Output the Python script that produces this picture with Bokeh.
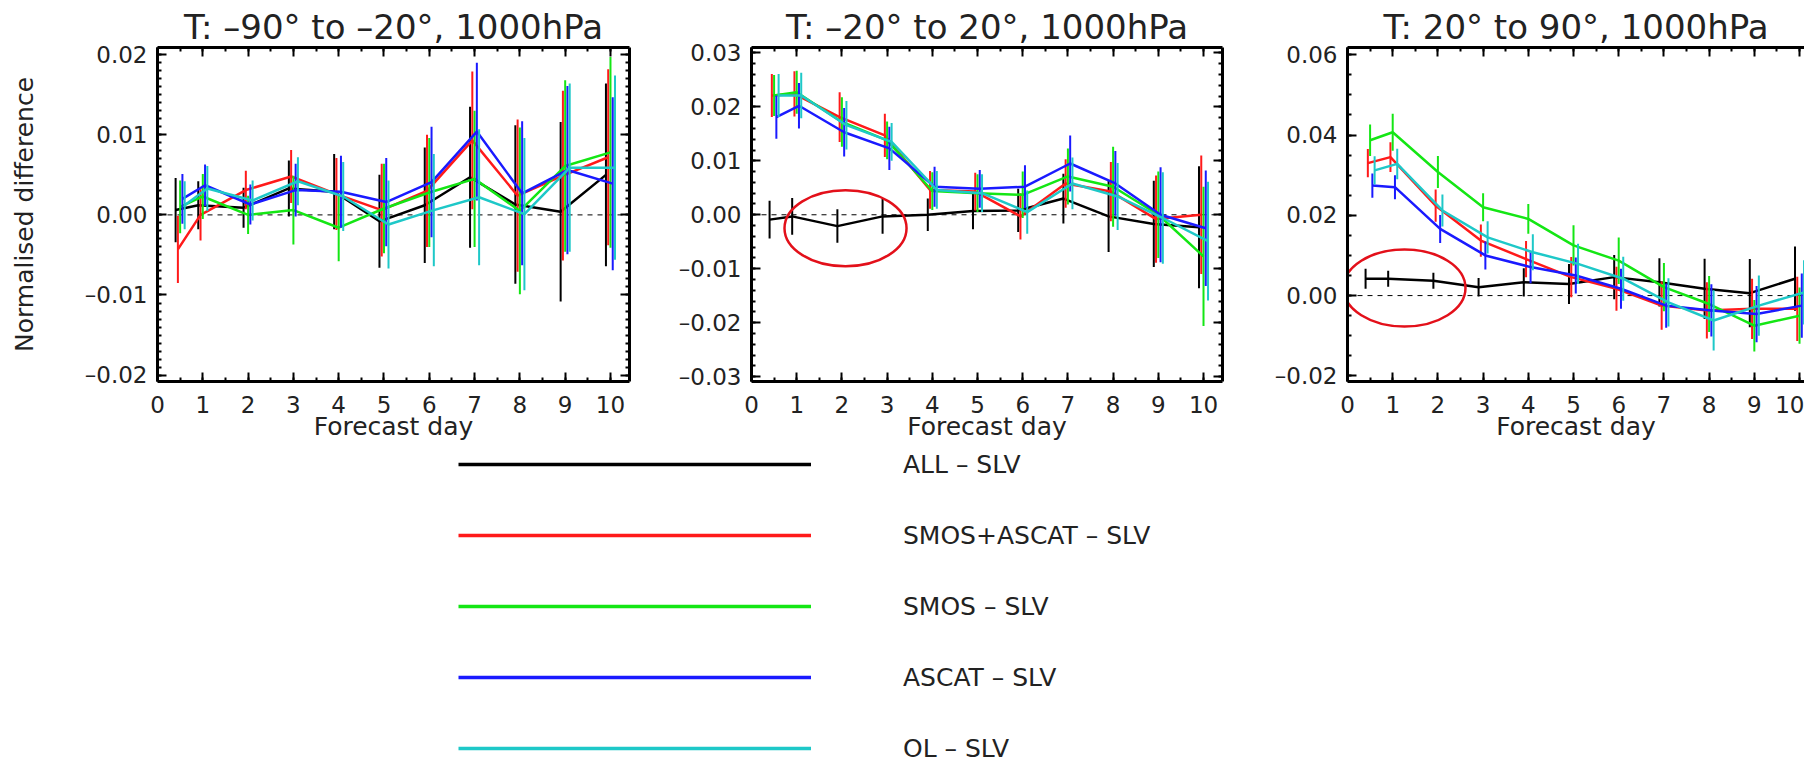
from bokeh.plotting import figure
from bokeh.layouts import row, column
from bokeh.models import (FixedTicker, LinearAxis, Range1d, Span, Title,
                          CustomJSTickFormatter, Legend, LegendItem, Spacer)
from bokeh.embed import file_html
from bokeh.resources import INLINE

FONT = "DejaVu Sans"
TXT = "#222222"

# ---------------- data ----------------
days = [0.5, 1, 2, 3, 4, 5, 6, 7, 8, 9, 10]
series_names = ["ALL \u2013 SLV", "SMOS+ASCAT \u2013 SLV", "SMOS \u2013 SLV", "ASCAT \u2013 SLV", "OL \u2013 SLV"]
series_colors = ["#000000", "#ff1a1a", "#14e614", "#1a1aff", "#1ec8c8"]
series_xshift = [-0.1, -0.05, 0.0, 0.05, 0.1]

panel_titles = ["T: \u201390\u00b0 to \u201320\u00b0, 1000hPa",
                "T: \u201320\u00b0 to 20\u00b0, 1000hPa",
                "T: 20\u00b0 to 90\u00b0, 1000hPa"]
x_label = "Forecast day"
y_label = "Normalised difference"
x_tick_values = [0, 1, 2, 3, 4, 5, 6, 7, 8, 9, 10]

# Panel 1: -90 to -20
p1_all = [0.0006, 0.0012, 0.0009, 0.0033, 0.0029, -0.0008, 0.0012, 0.0047, 0.0013, 0.0004, 0.0050]
p1_smos_ascat = [-0.0043, 0.0000, 0.0031, 0.0048, 0.0026, 0.0006, 0.0030, 0.0093, 0.0024, 0.0049, 0.0072]
p1_smos = [0.0010, 0.0023, 0.0000, 0.0006, -0.0016, 0.0008, 0.0028, 0.0045, 0.0005, 0.0061, 0.0078]
p1_ascat = [0.0020, 0.0037, 0.0013, 0.0031, 0.0029, 0.0016, 0.0041, 0.0104, 0.0027, 0.0056, 0.0039]
p1_ol = [0.0012, 0.0033, 0.0018, 0.0042, 0.0023, -0.0012, 0.0006, 0.0022, 0.0001, 0.0059, 0.0059]
p1_all_err = [0.0040, 0.0030, 0.0025, 0.0035, 0.0047, 0.0058, 0.0072, 0.0088, 0.0099, 0.0112, 0.0114]
p1_smos_ascat_err = [0.0042, 0.0032, 0.0024, 0.0033, 0.0045, 0.0058, 0.0070, 0.0086, 0.0095, 0.0106, 0.0110]
p1_smos_err = [0.0033, 0.0028, 0.0024, 0.0043, 0.0042, 0.0056, 0.0068, 0.0085, 0.0104, 0.0107, 0.0119]
p1_ascat_err = [0.0031, 0.0026, 0.0025, 0.0033, 0.0045, 0.0055, 0.0069, 0.0086, 0.0090, 0.0105, 0.0108]
p1_ol_err = [0.0030, 0.0028, 0.0025, 0.0030, 0.0043, 0.0055, 0.0070, 0.0085, 0.0095, 0.0105, 0.0115]

# Panel 2: -20 to 20
p2_all = [-0.0009, -0.0003, -0.0021, -0.0003, 0.0000, 0.0007, 0.0008, 0.0030, -0.0003, -0.0017, -0.0023]
p2_smos_ascat = [0.0221, 0.0224, 0.0181, 0.0147, 0.0046, 0.0043, -0.0003, 0.0058, 0.0043, -0.0008, 0.0000]
p2_smos = [0.0221, 0.0227, 0.0172, 0.0138, 0.0044, 0.0040, 0.0037, 0.0071, 0.0052, 0.0000, -0.0077]
p2_ascat = [0.0181, 0.0202, 0.0153, 0.0123, 0.0052, 0.0048, 0.0052, 0.0095, 0.0058, 0.0000, -0.0025]
p2_ol = [0.0221, 0.0221, 0.0166, 0.0135, 0.0046, 0.0040, 0.0005, 0.0058, 0.0034, -0.0006, -0.0049]
p2_all_err = [0.0035, 0.0034, 0.0031, 0.0032, 0.0030, 0.0034, 0.0040, 0.0046, 0.0066, 0.0080, 0.0113]
p2_smos_ascat_err = [0.0040, 0.0042, 0.0046, 0.0040, 0.0035, 0.0035, 0.0043, 0.0045, 0.0055, 0.0081, 0.0110]
p2_smos_err = [0.0038, 0.0040, 0.0046, 0.0035, 0.0035, 0.0035, 0.0043, 0.0052, 0.0074, 0.0080, 0.0129]
p2_ascat_err = [0.0040, 0.0042, 0.0045, 0.0040, 0.0037, 0.0035, 0.0040, 0.0052, 0.0060, 0.0088, 0.0107]
p2_ol_err = [0.0040, 0.0042, 0.0045, 0.0035, 0.0035, 0.0035, 0.0040, 0.0048, 0.0062, 0.0085, 0.0110]

# Panel 3: 20 to 90
p3_all = [0.0042, 0.0042, 0.0037, 0.0021, 0.0033, 0.0029, 0.0046, 0.0033, 0.0017, 0.0006, 0.0042]
p3_smos_ascat = [0.0330, 0.0345, 0.0224, 0.0137, 0.0091, 0.0046, 0.0017, -0.0025, -0.0037, -0.0033, -0.0033]
p3_smos = [0.0387, 0.0407, 0.0308, 0.0220, 0.0191, 0.0125, 0.0087, 0.0021, -0.0021, -0.0075, -0.0050]
p3_ascat = [0.0274, 0.0270, 0.0166, 0.0100, 0.0071, 0.0050, 0.0017, -0.0025, -0.0037, -0.0046, -0.0025]
p3_ol = [0.0312, 0.0328, 0.0212, 0.0145, 0.0108, 0.0079, 0.0042, -0.0017, -0.0062, -0.0025, 0.0008]
p3_all_err = [0.0025, 0.0020, 0.0020, 0.0023, 0.0035, 0.0050, 0.0055, 0.0060, 0.0075, 0.0085, 0.0080]
p3_smos_ascat_err = [0.0035, 0.0037, 0.0040, 0.0040, 0.0045, 0.0050, 0.0055, 0.0060, 0.0070, 0.0075, 0.0080]
p3_smos_err = [0.0039, 0.0046, 0.0040, 0.0035, 0.0037, 0.0050, 0.0058, 0.0060, 0.0070, 0.0064, 0.0070]
p3_ascat_err = [0.0030, 0.0030, 0.0035, 0.0035, 0.0040, 0.0045, 0.0050, 0.0055, 0.0065, 0.0070, 0.0080]
p3_ol_err = [0.0035, 0.0038, 0.0040, 0.0040, 0.0045, 0.0050, 0.0055, 0.0060, 0.0075, 0.0075, 0.0080]

# highlight ellipses (panel 2 and panel 3)
p2_ellipse_x, p2_ellipse_y, p2_ellipse_w, p2_ellipse_h = [2.08], [-0.0025], [2.7], [0.0141]
p3_ellipse_x, p3_ellipse_y, p3_ellipse_w, p3_ellipse_h = [1.26], [0.0019], [2.7], [0.0192]

# y axis ticks per panel
p1_y_ticks = [-0.02, -0.01, 0.0, 0.01, 0.02]
p2_y_ticks = [-0.03, -0.02, -0.01, 0.0, 0.01, 0.02, 0.03]
p3_y_ticks = [-0.02, 0.0, 0.02, 0.04, 0.06]

# ---------------- styling helpers ----------------
def minor_list(lo, hi, step):
    n = int(round((hi - lo) / step))
    return [round(lo + i * step, 6) for i in range(n + 1)]

y_fmt_code = """
const v = Math.abs(tick) < 1e-9 ? 0 : tick;
const s = Math.abs(v).toFixed(2);
return v < 0 ? '\u2013' + s : s;
"""
blank_code = "return '';"

AXIS_STYLE = dict(axis_line_width=3, axis_line_color="black",
                  major_tick_in=9, major_tick_out=0, minor_tick_in=4, minor_tick_out=0,
                  major_tick_line_width=2, minor_tick_line_width=2,
                  major_tick_line_color="black", minor_tick_line_color="black",
                  major_label_text_font=FONT, major_label_text_font_size="23px",
                  major_label_text_color=TXT)

PANEL_H = 449
LEGEND_H = 315


def kill_grid(p):
    for g in p.grid:
        g.visible = False


def make_panel(title, means, errs, y_range, y_ticks, y_minor, x_end, width, bl, br,
               ylabel=None, right_axis=True, ellipse=None):
    p = figure(width=width, height=PANEL_H, x_range=Range1d(0, x_end), y_range=Range1d(*y_range),
               output_backend="svg", toolbar_location=None,
               x_axis_location=None, y_axis_location=None,
               min_border_left=bl, min_border_right=br, min_border_top=47, min_border_bottom=68)
    p.title = Title(text=title, align="center", text_font=FONT, text_font_size="34px",
                    text_font_style="normal", text_color=TXT, standoff=1)
    p.outline_line_color = None
    p.background_fill_color = "white"
    p.border_fill_color = "white"
    kill_grid(p)

    x_minor = minor_list(0, 10.5, 0.5)
    xt = FixedTicker(ticks=x_tick_values, minor_ticks=x_minor)
    yt = FixedTicker(ticks=y_ticks, minor_ticks=y_minor)

    bottom = LinearAxis(ticker=xt, axis_label=x_label, major_label_standoff=14,
                        axis_label_standoff=-4, axis_label_text_font=FONT,
                        axis_label_text_font_size="25px", axis_label_text_font_style="normal",
                        axis_label_text_color=TXT, **AXIS_STYLE)
    p.add_layout(bottom, "below")
    top = LinearAxis(ticker=xt, formatter=CustomJSTickFormatter(code=blank_code),
                     major_label_standoff=0, **AXIS_STYLE)
    top.major_label_text_font_size = "1px"
    p.add_layout(top, "above")

    left = LinearAxis(ticker=yt, formatter=CustomJSTickFormatter(code=y_fmt_code),
                      major_label_standoff=10, **AXIS_STYLE)
    if ylabel:
        left.axis_label = ylabel
        left.axis_label_standoff = 43
        left.axis_label_text_font = FONT
        left.axis_label_text_font_size = "25px"
        left.axis_label_text_font_style = "normal"
        left.axis_label_text_color = TXT
    p.add_layout(left, "left")
    if right_axis:
        right = LinearAxis(ticker=yt, formatter=CustomJSTickFormatter(code=blank_code),
                           major_label_standoff=0, **AXIS_STYLE)
        right.major_label_text_font_size = "1px"
        p.add_layout(right, "right")

    p.add_layout(Span(location=0, dimension="width", line_color="black", line_width=1,
                      line_dash="5 5", level="underlay"))

    for m, e, c, dx in zip(means, errs, series_colors, series_xshift):
        xs = [d + dx for d in days]
        lo = [a - b for a, b in zip(m, e)]
        hi = [a + b for a, b in zip(m, e)]
        p.segment(x0=xs, y0=lo, x1=xs, y1=hi, line_color=c, line_width=2)
        p.line(xs, m, line_color=c, line_width=2.5)

    if ellipse is not None:
        ex, ey, ew, eh = ellipse
        p.ellipse(x=ex, y=ey, width=ew, height=eh, fill_color=None,
                  line_color="#e3101a", line_width=2.5)
    return p


f1 = make_panel(panel_titles[0],
                [p1_all, p1_smos_ascat, p1_smos, p1_ascat, p1_ol],
                [p1_all_err, p1_smos_ascat_err, p1_smos_err, p1_ascat_err, p1_ol_err],
                (-0.0208, 0.0209), p1_y_ticks, minor_list(-0.02, 0.02, 0.001), 10.42,
                width=634, bl=157, br=5, ylabel=y_label)
f2 = make_panel(panel_titles[1],
                [p2_all, p2_smos_ascat, p2_smos, p2_ascat, p2_ol],
                [p2_all_err, p2_smos_ascat_err, p2_smos_err, p2_ascat_err, p2_ol_err],
                (-0.0309, 0.031), p2_y_ticks, minor_list(-0.03, 0.03, 0.002), 10.42,
                width=593, bl=117, br=5,
                ellipse=(p2_ellipse_x, p2_ellipse_y, p2_ellipse_w, p2_ellipse_h))
f3 = make_panel(panel_titles[2],
                [p3_all, p3_smos_ascat, p3_smos, p3_ascat, p3_ol],
                [p3_all_err, p3_smos_ascat_err, p3_smos_err, p3_ascat_err, p3_ol_err],
                (-0.0214, 0.0618), p3_y_ticks, minor_list(-0.02, 0.06, 0.005), 10.11,
                width=577, bl=120, br=0, right_axis=False,
                ellipse=(p3_ellipse_x, p3_ellipse_y, p3_ellipse_w, p3_ellipse_h))

# ---------------- legend ----------------
lf = figure(width=900, height=LEGEND_H, x_range=Range1d(0, 1), y_range=Range1d(0, 1),
            output_backend="svg", toolbar_location=None,
            x_axis_location=None, y_axis_location=None, min_border=0)
lf.outline_line_color = None
kill_grid(lf)
items = []
for name, c in zip(series_names, series_colors):
    # legend-only renderer, kept outside the visible range
    r = lf.line(x=[-5, -4], y=[-5, -5], line_color=c, line_width=3.5)
    items.append(LegendItem(label=name, renderers=[r]))
leg = Legend(items=items, location="top_left", glyph_width=353, glyph_height=30,
             label_height=30, label_standoff=92, spacing=41, padding=0, margin=0,
             border_line_color=None, background_fill_alpha=0,
             label_text_font=FONT, label_text_font_size="25px", label_text_color=TXT)
lf.add_layout(leg)

layout = column(row(f1, f2, f3), row(Spacer(width=458, height=LEGEND_H), lf))

open("out.html", "w").write(file_html(layout, INLINE, title="Normalised difference"))
